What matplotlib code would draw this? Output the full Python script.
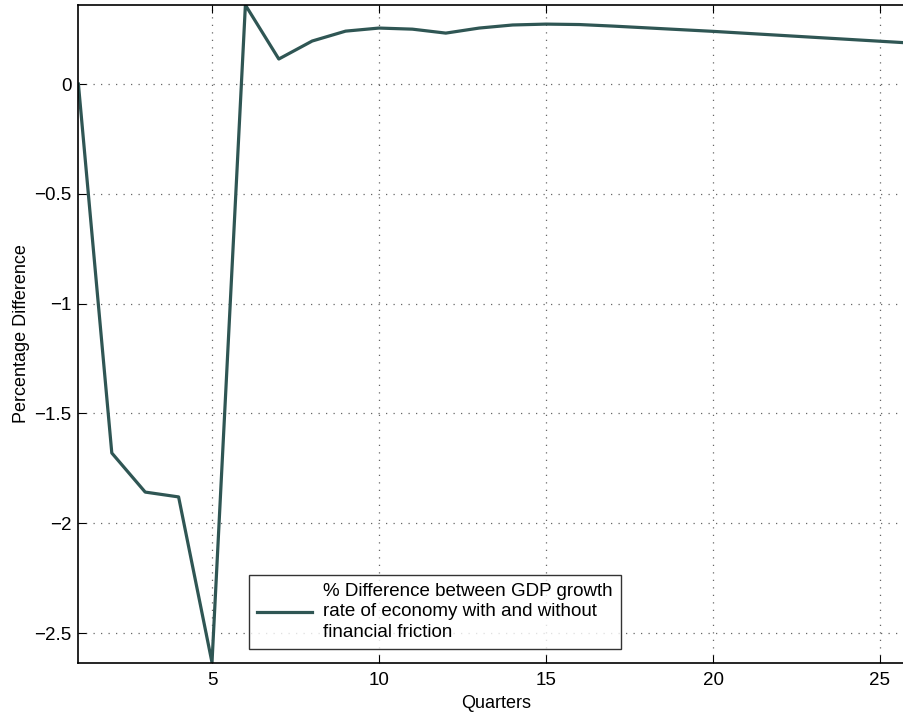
import numpy as np
import matplotlib
matplotlib.use("Agg")
import matplotlib.pyplot as plt

plt.rcParams['font.family'] = ['Liberation Sans', 'DejaVu Sans']

# data
quarters = list(range(1, 27))
gdp_diff = [0.0, -1.68, -1.858, -1.88, -2.634, 0.36, 0.114, 0.196, 0.241, 0.255,
            0.25, 0.232, 0.255, 0.269, 0.273, 0.271, 0.264, 0.256, 0.248, 0.240,
            0.231, 0.222, 0.213, 0.204, 0.195, 0.186]
xticks = [5, 10, 15, 20, 25]
yticks = [-2.5, -2, -1.5, -1, -0.5, 0]
label = ('% Difference between GDP growth\n'
         'rate of economy with and without\n'
         'financial friction')

W, H = 904, 715
fig = plt.figure(figsize=(W / 100, H / 100), dpi=100)
# axes spans past the right edge of the figure (reference is cropped)
x0, x1 = 78.4, 78.4 + 25 * 33.4
y0, y1 = 662.5, 5
ax = fig.add_axes([x0 / W, 1 - y0 / H, (x1 - x0) / W, (y0 - y1) / H])

ax.plot(quarters, gdp_diff, color='#2f5654', lw=2.3, label=label)
ax.set_xlim(1, 26)
ax.set_ylim(-2.634, 0.36)
ax.set_xticks(xticks)
ax.set_yticks(yticks)
ax.set_yticklabels(['\u22122.5', '\u22122', '\u22121.5', '\u22121', '\u22120.5', '0'])
ax.grid(True, linestyle=(0, (1, 5)), color='#666666', lw=0.9)
ax.tick_params(direction='in', length=6, labelsize=13.5, width=0.8, top=True, right=True)
ax.tick_params(axis='x', pad=7)
ax.tick_params(axis='y', pad=5)
for s in ax.spines.values():
    s.set_linewidth(1.2)
ax.set_xlabel('Quarters', fontsize=13, labelpad=4)
ax.set_ylabel('Percentage Difference', fontsize=13, labelpad=3)

leg = ax.legend(loc='lower left', bbox_to_anchor=((249 - x0) / (x1 - x0), (y0 - 649) / (y0 - y1)),
                fontsize=13.5, frameon=True, fancybox=False, edgecolor='black',
                handlelength=2.9, borderpad=0.45, handletextpad=0.6, borderaxespad=0)
leg.get_frame().set_linewidth(1.0)
for t in leg.get_texts():
    t.set_linespacing(1.25)

fig.savefig('out.png', dpi=100)
